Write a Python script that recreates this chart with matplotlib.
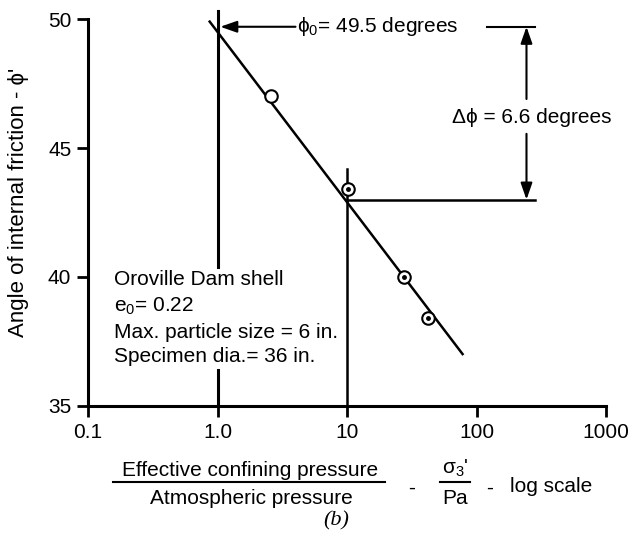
import matplotlib
matplotlib.use("Agg")
import matplotlib.pyplot as plt
from matplotlib.lines import Line2D
import numpy as np

plt.rcParams['font.family'] = ['Liberation Sans', 'DejaVu Sans']
plt.rcParams['mathtext.fontset'] = 'custom'
plt.rcParams['mathtext.rm'] = 'Liberation Sans'
plt.rcParams['mathtext.it'] = 'Liberation Sans:italic'

# data
pressure = [2.6, 10.2, 27.5, 42.0]
friction = [47.0, 43.4, 40.0, 38.4]
dotted = [False, True, True, True]
fit_x = [0.87, 78.0]
phi0 = 49.5
dphi = 6.6
fit_y = [phi0 - dphi * np.log10(v) for v in fit_x]
xticks = [0.1, 1, 10, 100, 1000]
xticklabels = ["0.1", "1.0", "10", "100", "1000"]
yticks = [35, 40, 45, 50]

FS = 15

fig = plt.figure(figsize=(6.3, 5.39), dpi=100)
ax = fig.add_axes([0.1397, 0.2468, 0.962 - 0.1397, 0.9647 - 0.2468])
ax.set_xscale('log')
ax.set_xlim(0.1, 1000)
ax.set_ylim(35, 50)
for s in ['top', 'right']:
    ax.spines[s].set_visible(False)
for s in ['left', 'bottom']:
    ax.spines[s].set_linewidth(2.2)
ax.set_xticks(xticks)
ax.set_xticklabels(xticklabels)
ax.minorticks_off()
ax.set_yticks(yticks)
ax.tick_params(axis='both', direction='out', length=8, width=2, labelsize=FS, pad=4)

# fit line
ax.plot(fit_x, fit_y, color='black', lw=1.8, clip_on=False, zorder=3)
# vertical reference lines (x=1 broken around the text block)
ax.plot([1, 1], [40.4, 50.3], color='black', lw=2.2, clip_on=False)
ax.plot([1, 1], [35, 36.4], color='black', lw=2.2, clip_on=False)
ax.plot([10, 10], [35, 44.2], color='black', lw=1.8, clip_on=False)
# horizontal at 43
ax.plot([10, 284], [43.0, 43.0], color='black', lw=1.8, clip_on=False)

# points
for px, py, d in zip(pressure, friction, dotted):
    ax.plot([px], [py], marker='o', ms=9, mfc='white', mec='black', mew=1.5, zorder=4, clip_on=False)
    if d:
        ax.plot([px], [py], marker='o', ms=2.5, color='black', zorder=5, clip_on=False)

# phi0 arrow and text
yarr = 49.7
ax.annotate('', xy=(1.05, yarr), xytext=(4.0, yarr),
            arrowprops=dict(arrowstyle='-|>,head_length=1.0,head_width=0.35', color='black', lw=1.5,
                            shrinkA=0, shrinkB=0), annotation_clip=False)
ax.text(4.13, yarr, 'ϕ$_0$= 49.5 degrees', fontsize=FS, va='center', ha='left')
ax.plot([120, 284], [yarr, yarr], color='black', lw=1.5, clip_on=False)

# delta phi arrows
xd = 243
ax.annotate('', xy=(xd, yarr), xytext=(xd, 46.9),
            arrowprops=dict(arrowstyle='-|>,head_length=1.0,head_width=0.35', color='black', lw=1.5,
                            shrinkA=0, shrinkB=0), annotation_clip=False)
ax.annotate('', xy=(xd, 43.0), xytext=(xd, 45.55),
            arrowprops=dict(arrowstyle='-|>,head_length=1.0,head_width=0.35', color='black', lw=1.5,
                            shrinkA=0, shrinkB=0), annotation_clip=False)
ax.text(265, 46.2, 'Δϕ = 6.6 degrees', fontsize=FS, va='center', ha='center')

# info text
info = ['Oroville Dam shell', 'e$_0$= 0.22', 'Max. particle size = 6 in.', 'Specimen dia.= 36 in.']
info_y = [39.9, 38.85, 37.85, 36.9]
for t, yy in zip(info, info_y):
    ax.text(0.158, yy, t, fontsize=FS, va='center', ha='left')

# y label
ax.set_ylabel("Angle of internal friction - ϕ'", fontsize=16)
ax.yaxis.set_label_coords(-0.114, 0.525)

# x label (fraction)
H = 539.0
W = 630.0
def fy(p):
    return 1 - p / H
def fx(p):
    return p / W
fig.text(fx(250), fy(470), 'Effective confining pressure', fontsize=FS, ha='center', va='center')
fig.add_artist(Line2D([fx(113), fx(385)], [fy(482), fy(482)], color='black', lw=1.5))
fig.text(fx(251), fy(498), 'Atmospheric pressure', fontsize=FS, ha='center', va='center')
fig.text(fx(412), fy(488), '-', fontsize=FS, ha='center', va='center')
fig.text(fx(455), fy(468), "σ$_3$'", fontsize=FS, ha='center', va='center')
fig.add_artist(Line2D([fx(440), fx(470)], [fy(482), fy(482)], color='black', lw=1.5))
fig.text(fx(455), fy(498), 'Pa', fontsize=FS, ha='center', va='center')
fig.text(fx(490), fy(488), '-', fontsize=FS, ha='center', va='center')
fig.text(fx(510), fy(486), 'log scale', fontsize=FS, ha='left', va='center')
fig.text(fx(336), fy(521), '(b)', fontsize=16, ha='center', va='center',
         family='Liberation Serif', style='italic')

fig.savefig('out.png', dpi=100)
